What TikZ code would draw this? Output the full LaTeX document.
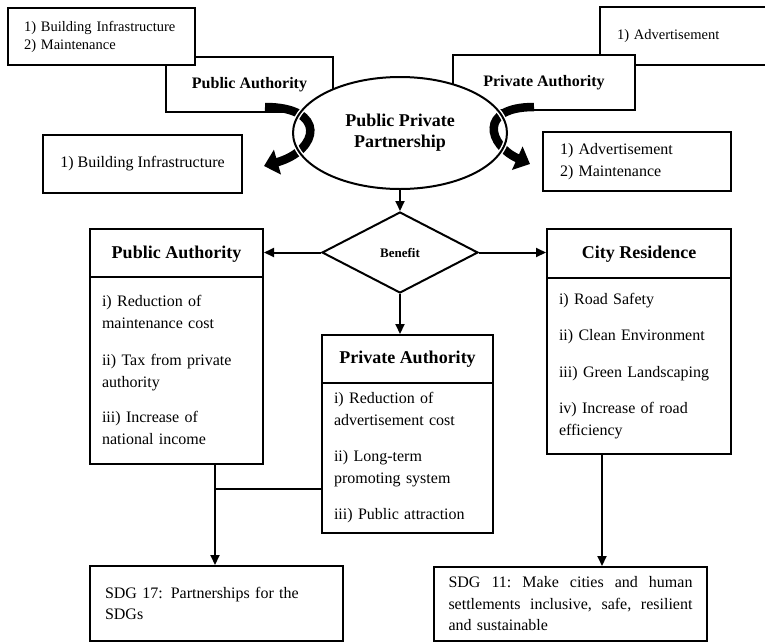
\documentclass[tikz,border=0pt]{standalone}
\usepackage{fontspec}
\setmainfont{Liberation Serif}
\usetikzlibrary{positioning,arrows.meta,shapes.geometric}

\begin{document}
\begin{tikzpicture}[x=1pt,y=-1pt,>={Triangle[length=10pt,width=9pt]},
  box/.style={draw,line width=2pt,fill=white,inner sep=0pt},
  twist/.style={line width=8.5pt,-{Triangle[length=14pt,width=25pt]}},
  small/.style={font=\fontsize{14.5}{18}\selectfont},
  body/.style={font=\fontsize{16}{21.5}\selectfont},
  head/.style={font=\bfseries\fontsize{18}{22}\selectfont}]
\useasboundingbox (0,0) rectangle (765,643);

% top row: who does what
\node[box,minimum width=167pt,minimum height=55pt,font=\bfseries\fontsize{16}{20}\selectfont] (pubTop) at (249.5,84.5) {Public Authority};
\node[box,small,minimum width=187pt,minimum height=57pt,text width=155pt,align=left] (pubDuty) at (101.5,36.5) {1) Building Infrastructure\\2) Maintenance};
\node[box,small,minimum width=170pt,minimum height=58pt,text width=136pt,align=left] (privDuty) at (685,36) {1) Advertisement};
\node[box,minimum width=182pt,minimum height=55pt,font=\bfseries\fontsize{16}{20}\selectfont] (privTop) at (544,82.5) {Private Authority};
\node[box,body,minimum width=199pt,minimum height=58pt] (pubGain) at (142.5,164) {1) Building Infrastructure};
\node[box,body,minimum width=188pt,minimum height=59pt,text width=154pt,align=left] (privGain) at (637,161.5) {1) Advertisement\\2) Maintenance};
\node[box,ellipse,minimum width=214pt,minimum height=112pt,align=center,font=\bfseries\fontsize{18}{21}\selectfont] (ppp) at (400,133) {Public Private\\Partnership};

% twisted arrows round the ellipse
\coordinate (pubFrom) at (265,107);
\coordinate (pubTo) at (264,166);
\coordinate (privFrom) at (534,107);
\coordinate (privTo) at (530,164);
\draw[twist] (pubFrom) .. controls (327,107) and (320,150) .. (pubTo);
\draw[twist] (privFrom) .. controls (478,107) and (488,145) .. (privTo);
\begin{scope}
\clip (280,95) rectangle (520,175);
\draw[white,line width=5pt] (400,133) ellipse [x radius=107pt,y radius=56pt];
\draw[line width=2pt] (400,133) ellipse [x radius=107pt,y radius=56pt];
\end{scope}

% benefits
\node[box,diamond,aspect=1.93,minimum width=156pt,minimum height=81pt,font=\bfseries\fontsize{13}{15}\selectfont] (benefit) at (400,252.5) {Benefit};
\node[box,head,minimum width=173pt,minimum height=50pt] (pubHead) at (176.5,254) {Public Authority};
\node[box,body,minimum width=173pt,minimum height=187pt,text width=149pt,align=left] (pubBody) at (176.5,370)
  {i) Reduction of\\maintenance cost\\[16pt]ii) Tax from private\\authority\\[14pt]iii) Increase of\\national income};
\node[box,head,minimum width=184pt,minimum height=51pt] (cityHead) at (639,254.5) {City Residence};
\node[box,body,minimum width=184pt,minimum height=176pt,text width=160pt,align=left] (cityBody) at (639,366)
  {i) Road Safety\\[15pt]ii) Clean Environment\\[15pt]iii) Green Landscaping\\[15pt]iv) Increase of road\\efficiency};
\node[box,head,minimum width=171pt,minimum height=48pt] (privHead) at (407.5,359) {Private Authority};
\node[box,body,minimum width=171pt,minimum height=150pt,text width=147pt,align=left] (privBody) at (407.5,458)
  {i) Reduction of\\advertisement cost\\[15pt]ii) Long-term\\promoting system\\[15pt]iii) Public attraction};

% goals
\node[box,body,minimum width=253pt,minimum height=75pt,text width=223pt,align=left] (sdgPart) at (216.5,603.5)
  {SDG 17: Partnerships for the\\SDGs};
\node[box,body,minimum width=273pt,minimum height=74pt,text width=244pt,align=left] (sdgCity) at (570.5,604)
  {\leavevmode\hbox to 244pt{SDG\hfill 11:\hfill Make\hfill cities\hfill and\hfill human}\\
   \leavevmode\hbox to 244pt{settlements\hfill inclusive,\hfill safe,\hfill resilient}\\and sustainable};

\draw[->,line width=2pt] (ppp.south) -- (benefit.north);
\draw[->,line width=2pt] (benefit.west) -- (benefit.west -| pubHead.east);
\draw[->,line width=2pt] (benefit.east) -- (benefit.east -| cityHead.west);
\draw[->,line width=2pt] (benefit.south) -- (benefit.south |- privHead.north);
\coordinate (join) at (215,489);
\draw[->,line width=2pt] (pubBody.south -| join) -- (join) -- (join |- sdgPart.north);
\draw[line width=2pt] (join) -- (join -| privBody.west);
\coordinate (drop) at (602,500);
\draw[->,line width=2pt] (cityBody.south -| drop) -- (drop |- sdgCity.north);
\end{tikzpicture}
\end{document}
